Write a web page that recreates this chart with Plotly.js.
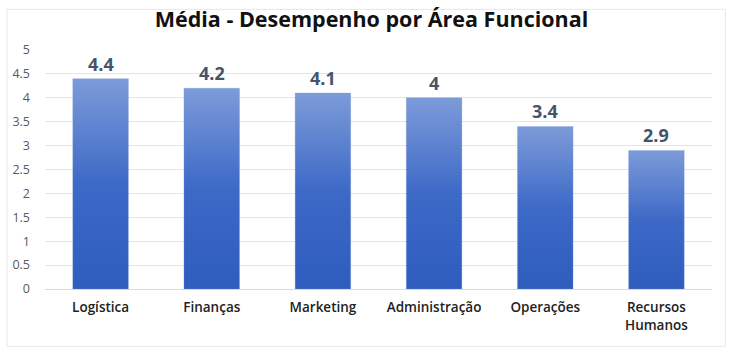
<!DOCTYPE html>
<html>
<head>
<meta charset="utf-8">
<script src="https://cdn.plot.ly/plotly-3.0.1.min.js"></script>
<style>html,body{margin:0;padding:0;background:#fff;}#chart{width:743px;height:358px;}</style>
</head>
<body>
<div id="chart"></div>
<script>
const categories = ["Logística", "Finanças", "Marketing", "Administração", "Operações", "Recursos<br>Humanos"];
const values = [4.4, 4.2, 4.1, 4, 3.4, 2.9];
const yTicks = [0, 0.5, 1, 1.5, 2, 2.5, 3, 3.5, 4, 4.5, 5];

const halfWidth = 0.25;
const traces = [];
values.forEach((v, i) => {
  traces.push({
    type: 'scatter', mode: 'lines',
    x: [i - halfWidth, i + halfWidth, i + halfWidth, i - halfWidth, i - halfWidth],
    y: [0, 0, v, v, 0],
    fill: 'toself',
    line: {width: 0.5, color: 'rgba(120,150,215,0.6)'},
    fillgradient: {type: 'vertical', colorscale: [[0, '#2e5dbe'], [0.5, '#3d69c7'], [1, '#7d9bd9']]},
    hoverinfo: 'skip', showlegend: false
  });
});

const annotations = values.map((v, i) => ({
  x: i, y: v, xref: 'x', yref: 'y', text: '<b>' + v + '</b>', showarrow: false,
  yanchor: 'bottom', yshift: 1,
  font: {family: 'Open Sans, sans-serif', size: 18, color: '#44546a'}
}));

const layout = {
  width: 743, height: 358,
  margin: {l: 45, r: 31, t: 50, b: 69},
  paper_bgcolor: '#ffffff', plot_bgcolor: '#ffffff',
  title: {text: '<b>Média - Desempenho por Área Funcional</b>', x: 0.5, xanchor: 'center', y: 0.945, yanchor: 'middle',
    font: {family: 'Open Sans, sans-serif', size: 21.5, color: '#111111'}},
  xaxis: {type: 'linear', range: [-0.5, 5.5], tickvals: categories.map((c, i) => i), ticktext: categories,
    showgrid: false, zeroline: false, showline: true, linecolor: '#d9d9d9', linewidth: 1,
    ticks: '', ticklabelstandoff: 6,
    tickfont: {family: 'Open Sans, sans-serif', size: 13.5, color: '#222222', weight: 600}, fixedrange: true},
  yaxis: {range: [0, 5], tickvals: yTicks, ticktext: yTicks.map(String), showgrid: true, gridcolor: '#e4e4e4',
    zeroline: false, showline: false, ticks: '', ticklabelstandoff: 14,
    tickfont: {family: 'Open Sans, sans-serif', size: 12.5, color: '#595959'}, fixedrange: true},
  annotations: annotations,
  shapes: [{type: 'rect', xref: 'paper', yref: 'paper', x0: -0.057, x1: 1.02, y0: -0.24, y1: 1.17,
    line: {color: '#e6e6e6', width: 1}}]
};
Plotly.newPlot('chart', traces, layout, {displayModeBar: false, staticPlot: true});
</script>
</body>
</html>
